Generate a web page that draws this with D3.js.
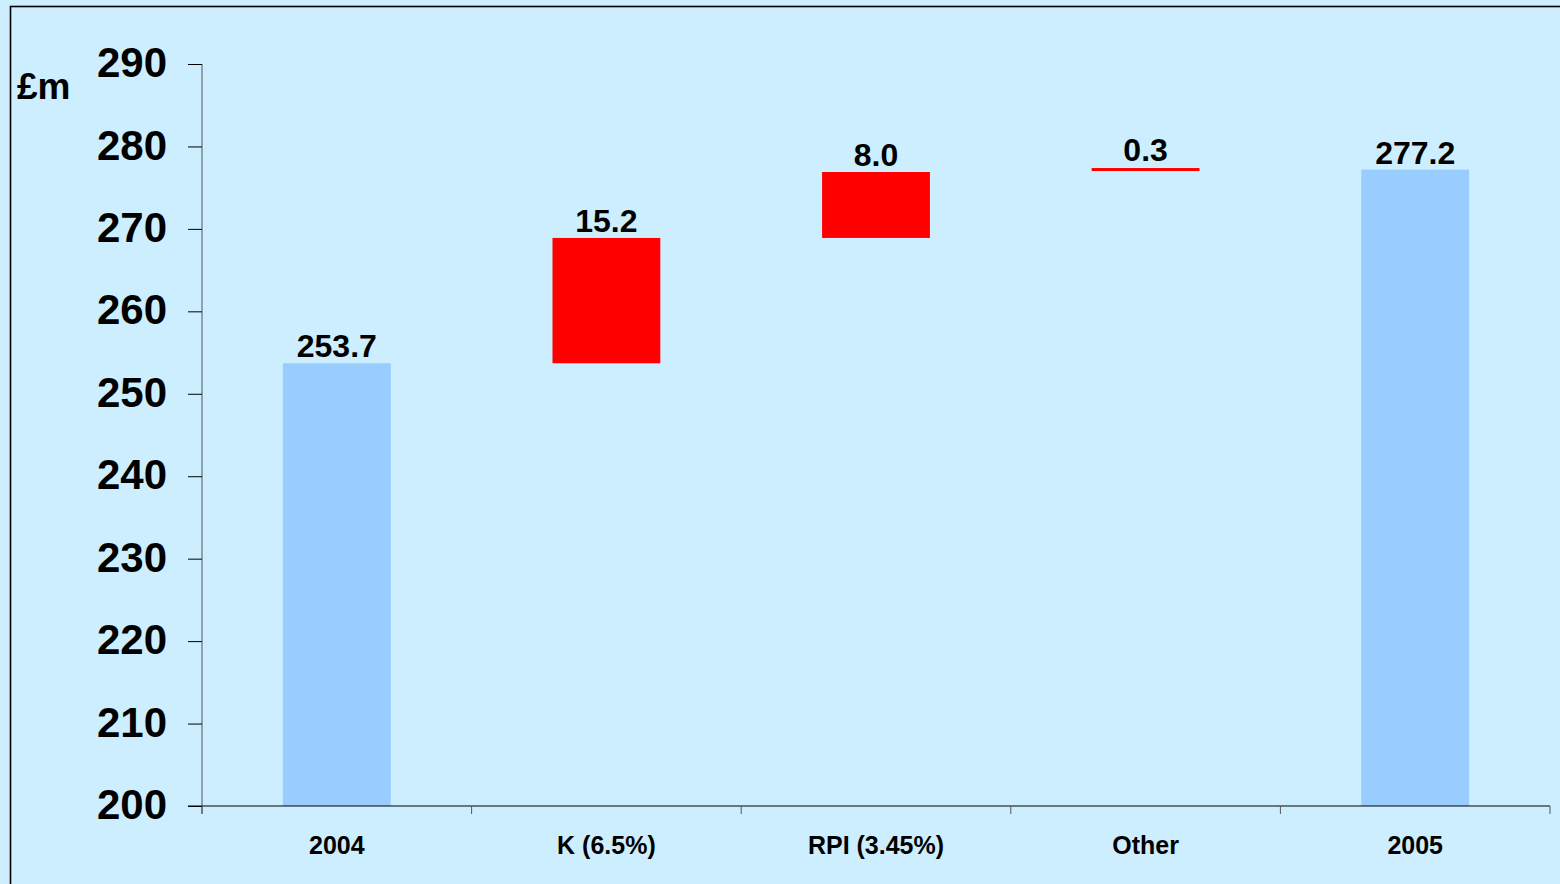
<!DOCTYPE html>
<html><head><meta charset="utf-8">
<script src="https://cdn.jsdelivr.net/npm/d3@7"></script>
<style>html,body{margin:0;padding:0;background:#CCEEFF;overflow:hidden}</style>
</head><body>
<svg id="c" width="1560" height="884"></svg>
<script>
const categories = ["2004", "K (6.5%)", "RPI (3.45%)", "Other", "2005"];
const changes = [253.7, 15.2, 8.0, 0.3, 277.2];
const kinds = ["total", "delta", "delta", "delta", "total"];
const valueLabels = ["253.7", "15.2", "8.0", "0.3", "277.2"];
const yTicks = [200, 210, 220, 230, 240, 250, 260, 270, 280, 290];
const yUnit = "£m";

(function () {
const svg = d3.select("#c");
svg.append("rect").attr("x", 0).attr("y", 0).attr("width", 1560).attr("height", 884).attr("fill", "#CCEEFF");
svg.append("rect").attr("x", 10.5).attr("y", 6.5).attr("width", 1600).attr("height", 1000)
  .attr("fill", "none").attr("stroke", "#000").attr("stroke-width", 1.6);

const pLeft = 202, pRight = 1550, pTop = 64, pBottom = 806;
const x = d3.scaleBand().domain(categories).range([pLeft, pRight]).paddingInner(0.6).paddingOuter(0.3);
const y = d3.scaleLinear().domain([200, 290]).range([pBottom, pTop]);

let running = 0;
const bars = categories.map((c, i) => {
  let lo, hi;
  if (kinds[i] === "total") { lo = 200; hi = changes[i]; running = changes[i]; }
  else { lo = running; hi = running + changes[i]; running = hi; }
  return { c, lo, hi, kind: kinds[i], label: valueLabels[i] };
});
const thin = d => d.kind === "delta" && (y(d.lo) - y(d.hi)) < 3;

svg.selectAll("rect.bar").data(bars).enter().append("rect")
  .attr("class", "bar")
  .attr("x", d => x(d.c))
  .attr("width", x.bandwidth())
  .attr("y", d => y(d.hi) - (thin(d) ? 1.5 : 0))
  .attr("height", d => Math.max(3, y(d.lo) - y(d.hi)))
  .attr("fill", d => d.kind === "total" ? "#99CCFF" : "#FF0000");

svg.selectAll("text.val").data(bars).enter().append("text")
  .attr("class", "val")
  .attr("x", d => x(d.c) + x.bandwidth() / 2)
  .attr("y", d => y(d.hi) - 6 - (thin(d) ? 3 : 0))
  .attr("text-anchor", "middle")
  .style("font-family", "Liberation Sans, Arial, sans-serif")
  .style("font-weight", "bold").style("font-size", "32px").attr("fill", "#000")
  .text(d => d.label);

const yAxis = svg.append("g").attr("transform", `translate(${pLeft},0)`)
  .call(d3.axisLeft(y).tickValues(yTicks).tickSize(14).tickPadding(21).tickSizeOuter(0));
yAxis.select(".domain").attr("stroke", "#555").attr("d", `M0,${pTop}V${pBottom + 8}`);
yAxis.selectAll(".tick line").attr("stroke", "#000");
yAxis.selectAll("text").style("font-family", "Liberation Sans, Arial, sans-serif")
  .style("font-weight", "bold").style("font-size", "42px").attr("fill", "#000").attr("dy", "0.3em");

const xb = d3.scaleLinear().domain([0, categories.length]).range([pLeft, pRight]);
const xg = svg.append("g");
xg.append("line").attr("x1", 188).attr("x2", pRight).attr("y1", pBottom).attr("y2", pBottom).attr("stroke", "#000").attr("stroke-width", 1.2);
xg.selectAll("line.xt").data(d3.range(categories.length + 1)).enter().append("line")
  .attr("class", "xt").attr("x1", d => xb(d)).attr("x2", d => xb(d))
  .attr("y1", pBottom).attr("y2", pBottom + 8).attr("stroke", "#555");
xg.selectAll("text").data(categories).enter().append("text")
  .attr("x", d => x(d) + x.bandwidth() / 2).attr("y", 854)
  .attr("text-anchor", "middle")
  .style("font-family", "Liberation Sans, Arial, sans-serif")
  .style("font-weight", "bold").style("font-size", "25px").attr("fill", "#000")
  .text(d => d);

svg.append("text").attr("x", 17).attr("y", 99)
  .style("font-family", "Liberation Sans, Arial, sans-serif")
  .style("font-weight", "bold").style("font-size", "37px").attr("fill", "#000")
  .text(yUnit);
})();
</script>
</body></html>
